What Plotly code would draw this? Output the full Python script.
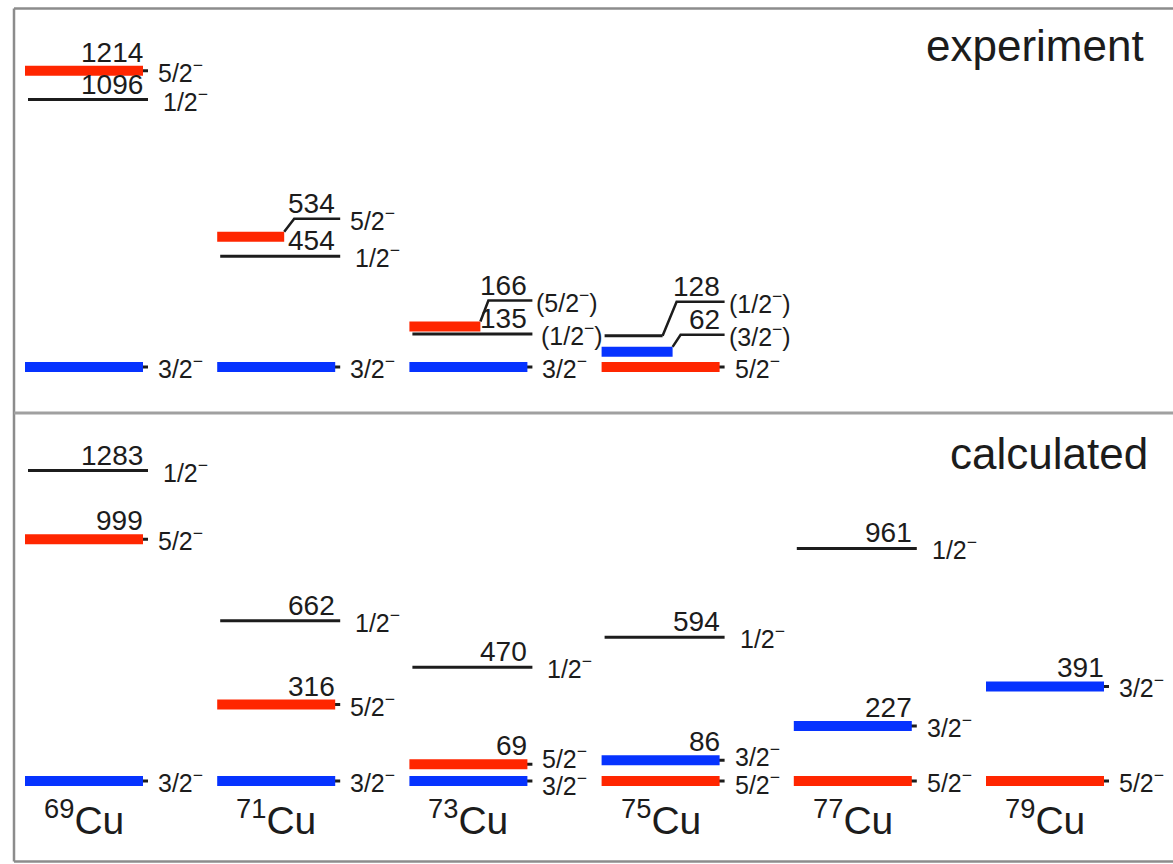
import plotly.graph_objects as go

W, H = 1173, 864

# ---- level data -------------------------------------------------------------
NUCLEI = ["69", "71", "73", "75", "77", "79"]

# measured levels (keV)
EXP_NUCLEUS = ["69", "69", "69", "71", "71", "71", "73", "73", "73", "75", "75", "75"]
EXP_ENERGY = [0, 1096, 1214, 0, 454, 534, 0, 135, 166, 0, 62, 128]
EXP_SPIN = ["3/2−", "1/2−", "5/2−", "3/2−", "1/2−", "5/2−",
            "3/2−", "(1/2−)", "(5/2−)", "5/2−", "(3/2−)", "(1/2−)"]

# shell-model levels (keV)
CALC_NUCLEUS = ["69", "69", "69", "71", "71", "71", "73", "73", "73",
                "75", "75", "75", "77", "77", "77", "79", "79"]
CALC_ENERGY = [0, 999, 1283, 0, 316, 662, 0, 69, 470,
               0, 86, 594, 0, 227, 961, 0, 391]
CALC_SPIN = ["3/2−", "5/2−", "1/2−", "3/2−", "5/2−", "1/2−", "3/2−", "5/2−", "1/2−",
             "5/2−", "3/2−", "1/2−", "5/2−", "3/2−", "1/2−", "5/2−", "3/2−"]

# ---- styling / geometry -------------------------------------------------------
RED = "#ff2600"
BLUE = "#0633ff"
INK = "#1c1c1c"
FRAME = "#8c8c8c"
FONT = "Liberation Sans, Arial, Helvetica, sans-serif"

COL_PX = 192.2          # pixels between neighbouring columns
FIRST_COL_PX = 84.0     # centre of the first column
TOP = dict(top=8, bottom=413, ground=367, px_per_kev=0.244, yaxis="y")
BOT = dict(top=413, bottom=862, ground=781, px_per_kev=0.242, yaxis="y2")

# close-lying measured levels get their labels lifted on a kinked leader:
# (lift in px, x where the level stops, horizontal run of the slant)
KINKS = {
    ("71", 534): (18, 8, 10),
    ("73", 166): (26, 12, 8),
    ("75", 128): (34, 2, 14),
    ("75", 62): (17, 12, 8),
}

# spin labels of nearly degenerate calculated levels are pushed apart (px)
SPIN_NUDGE = {
    ("73", 69): 7, ("73", 0): -3,
    ("75", 86): 5, ("75", 0): -2,
}


def px(dx):
    return dx / COL_PX


def colour(spin):
    if "3/2" in spin:
        return BLUE
    if "5/2" in spin:
        return RED
    return INK


def spin_html(spin):
    return spin.replace("−", "<sup>−</sup>")


fig = go.Figure()
annotations = []


def seg(xs, ys, color, width, yaxis):
    fig.add_trace(go.Scatter(
        x=xs, y=ys, mode="lines", yaxis=yaxis, xaxis="x",
        line=dict(color=color, width=width, shape="linear"),
        hoverinfo="skip", showlegend=False,
    ))


def draw_panel(nuclei, energies, spins, panel, kinks, nudges):
    kev_per_px = 1.0 / panel["px_per_kev"]
    ya = panel["yaxis"]
    for nuc, e, spin in zip(nuclei, energies, spins):
        c = NUCLEI.index(nuc)
        col = colour(spin)
        thick = col != INK
        label_e = e
        kink = kinks.get((nuc, e))
        label_thick = thick
        if kink:
            lift, split, run = kink
            label_e = e + lift * kev_per_px
            start = c + px(split)
            if thick:
                seg([c + px(-59), start], [e, e], col, 10, ya)
                y0 = e + 5 * kev_per_px
            else:
                seg([c + px(-56), start], [e, e], INK, 3, ya)
                y0 = e
            seg([start, start + px(run), c + px(64)], [y0, label_e, label_e], INK, 2.5, ya)
            spin_x = c + px(72)
            label_thick = False
        elif thick:
            seg([c + px(-57), c + px(64)], [e, e], INK, 3, ya)
            seg([c + px(-59), c + px(59)], [e, e], col, 10, ya)
            spin_x = c + px(72)
        else:
            seg([c + px(-56), c + px(64)], [e, e], INK, 3, ya)
            spin_x = c + px(77)
        if spin.startswith("("):
            spin_x -= px(6)

        annotations.append(dict(
            x=spin_x, y=label_e, xref="x", yref=ya, text=spin_html(spin),
            showarrow=False, xanchor="left", yanchor="middle",
            yshift=nudges.get((nuc, e), 0),
            font=dict(family=FONT, size=25, color=INK),
        ))
        if e != 0:
            annotations.append(dict(
                x=c + px(61), y=label_e, xref="x", yref=ya, text=str(e),
                showarrow=False, xanchor="right", yanchor="bottom",
                yshift=1 if label_thick else -2,
                font=dict(family=FONT, size=28, color=INK),
            ))


draw_panel(EXP_NUCLEUS, EXP_ENERGY, EXP_SPIN, TOP, KINKS, {})
draw_panel(CALC_NUCLEUS, CALC_ENERGY, CALC_SPIN, BOT, {}, SPIN_NUDGE)

# isotope names under the calculated levels
for i, nuc in enumerate(NUCLEI):
    annotations.append(dict(
        x=i, y=0, xref="x", yref="y2", text=f"<sup>{nuc}</sup>Cu",
        showarrow=False, xanchor="center", yanchor="top", yshift=-10,
        font=dict(family=FONT, size=39, color=INK),
    ))

# panel titles
annotations.append(dict(
    x=1146 / W, y=1 - 45 / H, xref="paper", yref="paper", text="experiment",
    showarrow=False, xanchor="right", yanchor="middle",
    font=dict(family=FONT, size=44, color=INK),
))
annotations.append(dict(
    x=1150 / W, y=1 - 453 / H, xref="paper", yref="paper", text="calculated",
    showarrow=False, xanchor="right", yanchor="middle",
    font=dict(family=FONT, size=44, color=INK),
))


def y_range(p):
    return [(p["ground"] - p["bottom"]) / p["px_per_kev"],
            (p["ground"] - p["top"]) / p["px_per_kev"]]


def domain(p):
    return [1 - p["bottom"] / H, 1 - p["top"] / H]


hidden = dict(visible=False, showgrid=False, zeroline=False, fixedrange=True)

shapes = [
    # outer frame (open to the right edge)
    dict(type="line", xref="paper", yref="paper", x0=14 / W, x1=1.02,
         y0=1 - 8.5 / H, y1=1 - 8.5 / H, line=dict(color=FRAME, width=2.5)),
    dict(type="line", xref="paper", yref="paper", x0=14 / W, x1=1.02,
         y0=1 - 861.5 / H, y1=1 - 861.5 / H, line=dict(color=FRAME, width=2.5)),
    dict(type="line", xref="paper", yref="paper", x0=14 / W, x1=14 / W,
         y0=1 - 861.5 / H, y1=1 - 8.5 / H, line=dict(color=FRAME, width=2.5)),
    # divider between the two panels
    dict(type="line", xref="paper", yref="paper", x0=14 / W, x1=1.02,
         y0=1 - 413 / H, y1=1 - 413 / H, line=dict(color="#a0a0a0", width=3)),
]

fig.update_layout(
    width=W, height=H,
    margin=dict(l=0, r=0, t=0, b=0),
    paper_bgcolor="white", plot_bgcolor="white",
    xaxis=dict(range=[-FIRST_COL_PX / COL_PX, (W - FIRST_COL_PX) / COL_PX],
               domain=[0, 1], anchor="y2", **hidden),
    yaxis=dict(range=y_range(TOP), domain=domain(TOP), anchor="x", **hidden),
    yaxis2=dict(range=y_range(BOT), domain=domain(BOT), anchor="x", **hidden),
    annotations=annotations,
    shapes=shapes,
    showlegend=False,
)

fig.write_html("out.html", config={"displayModeBar": False})
